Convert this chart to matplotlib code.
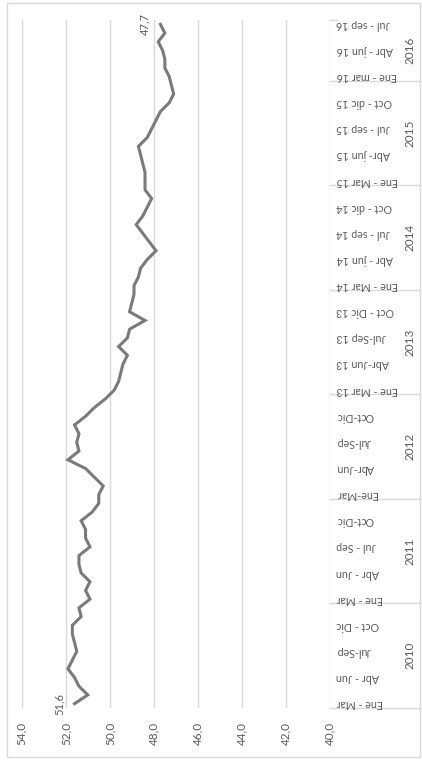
import matplotlib.pyplot as plt
from matplotlib.patches import Rectangle

# datos (trimestre movil, mensual)
years = ['2010', '2011', '2012', '2013', '2014', '2015', '2016']
months_per_year = [12, 12, 12, 12, 12, 12, 7]
quarter_labels = [
    'Ene - Mar', 'Abr - Jun', 'Jul-Sep', 'Oct - Dic',
    'Ene - Mar', 'Abr - Jun', 'Jul - Sep', 'Oct-Dic',
    'Ene-Mar', 'Abr-Jun', 'Jul-Sep', 'Oct-Dic',
    'Ene - Mar 13', 'Abr-Jun 13', 'Jul-Sep 13', 'Oct - Dic 13',
    'Ene - Mar 14', 'Abr - jun 14', 'Jul - sep 14', 'Oct - dic 14',
    'Ene - Mar 15', 'Abr- jun 15', 'Jul - sep 15', 'Oct - dic 15',
    'Ene - mar 16', 'Abr - jun 16', 'Jul - sep 16',
]
rate = [
    51.6, 51.0, 51.4, 51.6, 51.9, 51.7, 51.5, 51.6, 51.7, 51.7, 51.3, 51.4,
    50.9, 51.1, 50.9, 51.3, 51.4, 51.4, 50.9, 51.1, 51.1, 51.3, 50.8, 50.5,
    50.5, 50.3, 50.7, 51.1, 51.9, 51.4, 51.5, 51.4, 51.6, 51.1, 50.7, 50.2,
    49.8, 49.6, 49.5, 49.4, 49.2, 49.6, 49.2, 49.1, 48.4, 49.1, 49.0, 48.9,
    48.9, 48.7, 48.6, 48.3, 47.9, 48.2, 48.5, 48.8, 48.5, 48.3, 48.1, 48.4,
    48.4, 48.4, 48.5, 48.6, 48.7, 48.3, 48.1, 47.9, 47.7, 47.3, 47.1, 47.2,
    47.3, 47.5, 47.5, 47.6, 47.8, 47.5, 47.7,
]

plt.rcParams['font.family'] = ['Lato', 'DejaVu Sans']
txt = '#595959'
grid = '#d9d9d9'

fig = plt.figure(figsize=(4.22, 7.61), dpi=100)
ax = fig.add_axes([21.7 / 422, 53 / 761, 308.3 / 422, 688 / 761])

pos = list(range(len(rate)))
ax.plot(rate, pos, color='#7a7a7a', linewidth=2.2, solid_joinstyle='miter')

ax.set_xlim(54, 40)
ax.set_ylim(-0.5, len(rate) - 0.5)
ax.set_xticks(range(40, 55, 2))
ax.set_xticklabels([('%.1f' % v).replace('.', ',') for v in range(40, 55, 2)], rotation=90)
ax.tick_params(axis='x', length=0, pad=10, labelsize=8.5, labelcolor=txt)
ax.set_yticks([])
ax.grid(axis='x', color=grid, linewidth=1.0)
ax.set_axisbelow(True)
for s in ax.spines.values():
    s.set_visible(False)

# etiquetas de datos
for i in [0, len(rate) - 1]:
    ax.annotate(('%.1f' % rate[i]).replace('.', ','), (rate[i], i),
                xytext=(-11, 0), textcoords='offset points', rotation=90,
                ha='center', va='center', fontsize=8, color=txt)

# eje de categorias a la derecha
tr = ax.get_yaxis_transform()
x_right = (419 - 21.7) / 308.3
for k, lab in enumerate(quarter_labels):
    ax.text(1.02, k * 3, lab, transform=tr, rotation=180, rotation_mode='anchor',
            ha='right', va='center', fontsize=7.7, color=txt, clip_on=False)

start = 0
for yr, n in zip(years, months_per_year):
    ax.plot([1.0, x_right], [start - 0.5, start - 0.5], transform=tr,
            color=grid, linewidth=1.0, clip_on=False)
    ax.text(1.26, start + (n - 1) / 2, yr, transform=tr, rotation=90,
            ha='center', va='center', fontsize=8.5, color=txt, clip_on=False)
    start += n
ax.plot([1.0, 1.023], [start - 0.5, start - 0.5], transform=tr,
        color=grid, linewidth=1.0, clip_on=False)

# borde del grafico
fig.patches.append(Rectangle((7 / 422, 4 / 761), 413 / 422, 754 / 761,
                             transform=fig.transFigure, fill=False,
                             edgecolor=grid, linewidth=1.0))

fig.savefig('out.png', dpi=100)
